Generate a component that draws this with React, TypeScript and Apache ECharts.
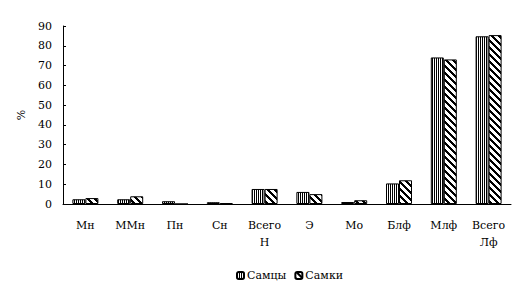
import React, { useEffect, useRef } from 'react';
import * as echarts from 'echarts';

const categories = ['Мн', 'ММн', 'Пн', 'Сн', 'Всего\nН', 'Э', 'Мо', 'Блф', 'Млф', 'Всего\nЛф'];
const males = [2.4, 2.4, 1.4, 0.9, 7.6, 6.1, 1.0, 10.4, 74.1, 84.8];
const females = [3.0, 3.9, 0, 0.4, 7.6, 5.0, 1.9, 12.0, 73.1, 85.4];
const seriesNames = ['Самцы', 'Самки'];

function makeTile(size: number, isBlack: (x: number, y: number) => boolean): HTMLCanvasElement {
  const c = document.createElement('canvas');
  c.width = size;
  c.height = size;
  const ctx = c.getContext('2d')!;
  const img = ctx.createImageData(size, size);
  for (let y = 0; y < size; y++) {
    for (let x = 0; x < size; x++) {
      const i = (y * size + x) * 4;
      const v = isBlack(x, y) ? 0 : 255;
      img.data[i] = v;
      img.data[i + 1] = v;
      img.data[i + 2] = v;
      img.data[i + 3] = 255;
    }
  }
  ctx.putImageData(img, 0, 0);
  return c;
}

export default function App() {
  const ref = useRef<HTMLDivElement>(null);
  useEffect(() => {
    document.body.style.margin = '0';
    const chart = echarts.init(ref.current!, null, { renderer: 'svg' });
    const vertical = makeTile(2, (x) => x === 0);
    const diagonal = makeTile(7, (x, y) => (((x - y) % 7) + 7) % 7 < 3);
    const font = 'DejaVu Serif';
    chart.setOption({
      animation: false,
      textStyle: { fontFamily: font, color: '#000' },
      grid: { left: 63, right: 15, top: 26, bottom: 89 },
      legend: {
        data: seriesNames,
        left: 231,
        top: 265,
        itemWidth: 7,
        itemHeight: 7,
        itemGap: 8,
        textStyle: { fontFamily: font, fontSize: 11, color: '#000', padding: [0, 0, 0, -2] },
      },
      xAxis: {
        type: 'category',
        data: categories,
        axisLine: { lineStyle: { color: '#000', width: 1 } },
        axisTick: { inside: true, length: 3, lineStyle: { color: '#000' } },
        axisLabel: { color: '#000', fontFamily: font, fontSize: 11, margin: 13, lineHeight: 17, interval: 0 },
      },
      yAxis: {
        type: 'value',
        min: 0,
        max: 90,
        interval: 10,
        name: '%',
        nameLocation: 'middle',
        nameGap: 28,
        nameTextStyle: { color: '#000', fontFamily: font, fontSize: 11 },
        splitLine: { show: false },
        axisLine: { show: true, lineStyle: { color: '#000', width: 1 } },
        axisTick: { show: true, inside: true, length: 3, lineStyle: { color: '#000' } },
        axisLabel: { color: '#000', fontFamily: font, fontSize: 11, margin: 11 },
      },
      series: [
        {
          name: seriesNames[0],
          type: 'bar',
          data: males,
          barWidth: 13,
          barGap: '0%',
          itemStyle: {
            color: { image: vertical, repeat: 'repeat' },
            borderColor: '#000',
            borderWidth: 1,
          },
        },
        {
          name: seriesNames[1],
          type: 'bar',
          data: females,
          barWidth: 13,
          itemStyle: {
            color: { image: diagonal, repeat: 'repeat' },
            borderColor: '#000',
            borderWidth: 1,
          },
        },
      ],
    });
    return () => chart.dispose();
  }, []);
  return <div ref={ref} style={{ width: 526, height: 293 }} />;
}
